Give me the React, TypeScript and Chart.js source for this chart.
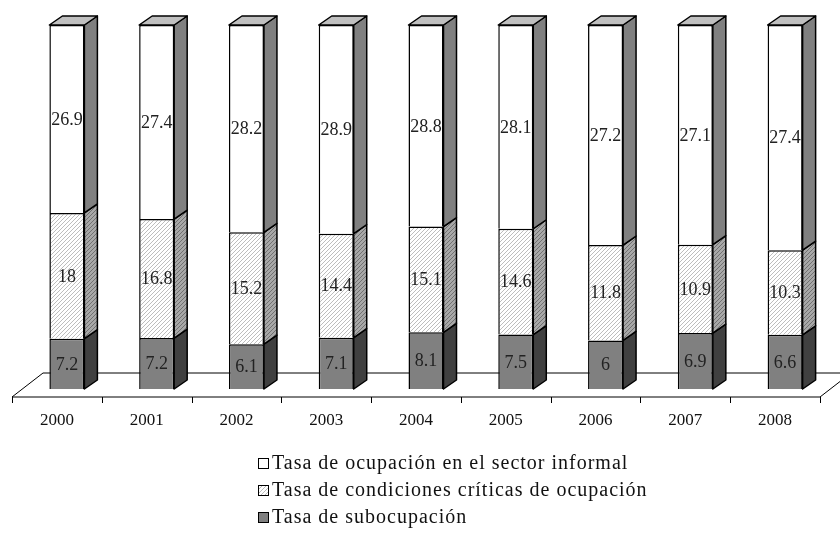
import React, { useEffect, useRef } from "react";
import { Chart, registerables } from "chart.js";

Chart.register(...registerables);

const categories = ["2000", "2001", "2002", "2003", "2004", "2005", "2006", "2007", "2008"];
const informal = [26.9, 27.4, 28.2, 28.9, 28.8, 28.1, 27.2, 27.1, 27.4];
const critical = [18, 16.8, 15.2, 14.4, 15.1, 14.6, 11.8, 10.9, 10.3];
const subocup = [7.2, 7.2, 6.1, 7.1, 8.1, 7.5, 6, 6.9, 6.6];
const seriesNames = [
  "Tasa de ocupación en el sector informal",
  "Tasa de condiciones críticas de ocupación",
  "Tasa de subocupación",
];

const FONT = "'Liberation Serif', 'Times New Roman', serif";
const DX = 13;
const DY = -9;
const SHIFT = 10;

function makeHatch(bg: string, line: string): CanvasPattern | string {
  const c = document.createElement("canvas");
  c.width = 4;
  c.height = 4;
  const g = c.getContext("2d");
  if (!g) return bg;
  g.fillStyle = bg;
  g.fillRect(0, 0, 4, 4);
  g.strokeStyle = line;
  g.lineWidth = 1;
  g.beginPath();
  g.moveTo(0, 4);
  g.lineTo(4, 0);
  g.moveTo(-1, 1);
  g.lineTo(1, -1);
  g.moveTo(3, 5);
  g.lineTo(5, 3);
  g.stroke();
  const p = g.createPattern(c, "repeat");
  return p || bg;
}

export default function App() {
  const ref = useRef<HTMLCanvasElement>(null);

  useEffect(() => {
    const canvas = ref.current;
    if (!canvas) return;
    const totals = categories.map((_, i) => informal[i] + critical[i] + subocup[i]);
    const pct = (arr: number[]) => arr.map((v, i) => (v / totals[i]) * 100);

    const hatchFront = makeHatch("#ffffff", "#bdbdbd");
    const hatchSide = makeHatch("#a8a8a8", "#707070");

    // bottom to top
    const raw = [subocup, critical, informal];
    const fronts: any[] = ["#808080", hatchFront, "#ffffff"];
    const sides: any[] = ["#404040", hatchSide, "#808080"];
    const tops: any[] = ["#606060", "#c0c0c0", "#c0c0c0"];

    const plugin = {
      id: "threeD",
      beforeDatasetsDraw(chart: any) {
        const ctx = chart.ctx as CanvasRenderingContext2D;
        const xs = chart.scales.x;
        const area = chart.chartArea;
        const n = categories.length;
        const step = (area.right - area.left) / n;
        const fl = area.left;
        const fr = area.right;
        const fy = area.bottom + 8;
        const by = fy - 24;
        const bx = 31;
        ctx.save();
        ctx.fillStyle = "#ffffff";
        ctx.strokeStyle = "#000000";
        ctx.lineWidth = 1;
        ctx.beginPath();
        ctx.moveTo(fl, fy);
        ctx.lineTo(fr, fy);
        ctx.lineTo(fr + bx, by);
        ctx.lineTo(fl + bx, by);
        ctx.closePath();
        ctx.fill();
        ctx.stroke();
        // ticks
        ctx.beginPath();
        for (let i = 0; i <= n; i++) {
          const x = Math.round(fl + i * step) + 0.5;
          ctx.moveTo(x, fy);
          ctx.lineTo(x, fy + 6);
        }
        ctx.stroke();
        // year labels
        ctx.fillStyle = "#111111";
        ctx.font = `17px ${FONT}`;
        ctx.textAlign = "center";
        ctx.textBaseline = "middle";
        categories.forEach((c, i) => {
          ctx.fillText(c, xs.getPixelForValue(i), fy + 24);
        });
        ctx.restore();

        // side and top faces
        ctx.save();
        ctx.translate(SHIFT, 0);
        ctx.strokeStyle = "#000000";
        ctx.lineWidth = 1.5;
        ctx.lineJoin = "round";
        for (let d = 0; d < 3; d++) {
          const meta = chart.getDatasetMeta(d);
          meta.data.forEach((el: any) => {
            const p = el.getProps(["x", "y", "base", "width"], true);
            const x2 = p.x + p.width / 2;
            const x1 = p.x - p.width / 2;
            const yt = Math.min(p.y, p.base);
            const yb = Math.max(p.y, p.base);
            ctx.fillStyle = sides[d];
            ctx.beginPath();
            ctx.moveTo(x2, yb);
            ctx.lineTo(x2, yt);
            ctx.lineTo(x2 + DX, yt + DY);
            ctx.lineTo(x2 + DX, yb + DY);
            ctx.closePath();
            ctx.fill();
            ctx.stroke();
            if (d === 2) {
              ctx.fillStyle = tops[d];
              ctx.beginPath();
              ctx.moveTo(x1, yt);
              ctx.lineTo(x1 + DX, yt + DY);
              ctx.lineTo(x2 + DX, yt + DY);
              ctx.lineTo(x2, yt);
              ctx.closePath();
              ctx.fill();
              ctx.stroke();
            }
          });
        }
      },
      afterDatasetsDraw(chart: any) {
        const ctx = chart.ctx as CanvasRenderingContext2D;
        ctx.restore();
        ctx.save();
        ctx.fillStyle = "#222222";
        ctx.font = `18px ${FONT}`;
        ctx.textAlign = "center";
        ctx.textBaseline = "middle";
        for (let d = 0; d < 3; d++) {
          const meta = chart.getDatasetMeta(d);
          meta.data.forEach((el: any, i: number) => {
            const p = el.getProps(["x", "y", "base"], true);
            ctx.fillText(String(raw[d][i]), p.x + SHIFT, (p.y + p.base) / 2 + 1);
          });
        }
        // legend
        const lx = 258;
        const rows = [464, 491, 518];
        const boxes: any[] = ["#ffffff", hatchFront, "#808080"];
        ctx.textAlign = "left";
        ctx.font = `20px ${FONT}`;
        (ctx as any).letterSpacing = "1px";
        seriesNames.forEach((name, i) => {
          const y = rows[i];
          ctx.fillStyle = boxes[i];
          ctx.fillRect(lx, y - 6, 11, 11);
          ctx.strokeStyle = "#000000";
          ctx.lineWidth = 1;
          ctx.strokeRect(lx + 0.5, y - 5.5, 10, 10);
          ctx.fillStyle = "#111111";
          ctx.fillText(name, lx + 14, y);
        });
        ctx.restore();
      },
    };

    const chart = new Chart(canvas, {
      type: "bar",
      data: {
        labels: categories,
        datasets: raw.map((arr, d) => ({
          label: seriesNames[2 - d],
          data: pct(arr),
          backgroundColor: fronts[d],
          borderColor: "#000000",
          borderWidth: 1.5,
          barPercentage: 0.39,
          categoryPercentage: 1,
          clip: false as any,
        })),
      },
      options: {
        responsive: false,
        animation: false,
        layout: { padding: { left: 12, right: 20, top: 25, bottom: 144 } },
        scales: {
          x: { display: false, stacked: true },
          y: { display: false, stacked: true, min: 0, max: 100 },
        },
        plugins: { legend: { display: false }, tooltip: { enabled: false } },
      },
      plugins: [plugin],
    });
    return () => chart.destroy();
  }, []);

  return (
    <div style={{ position: "fixed", left: 0, top: 0, width: 840, height: 533, background: "#fff" }}>
      <canvas ref={ref} width={840} height={533} style={{ display: "block" }} />
    </div>
  );
}
